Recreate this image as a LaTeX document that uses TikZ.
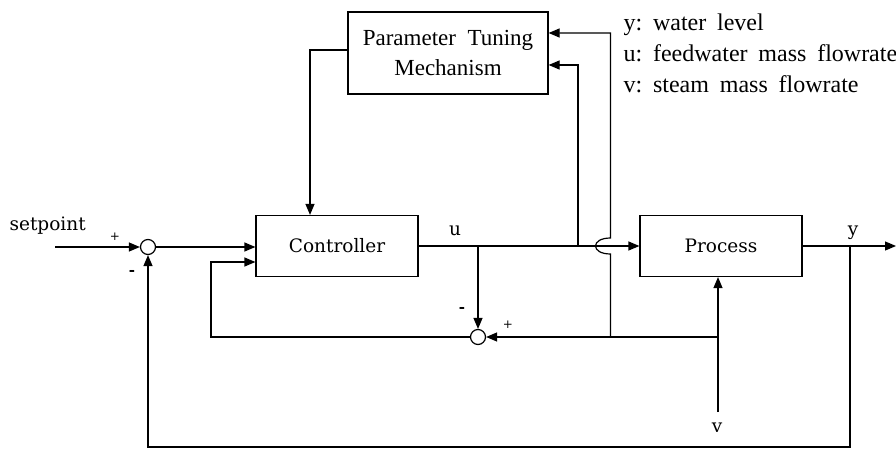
\documentclass[tikz,border=0pt]{standalone}
\usepackage{fontspec}
\setmainfont{Liberation Serif}
\newfontfamily\dvs{DejaVu Serif}
\usetikzlibrary{arrows.meta}
\newcommand\ptmfont{\fontsize{23}{30}\selectfont\spaceskip=0.5em\relax}
\newcommand\legfont{\fontsize{24}{26}\selectfont\spaceskip=0.45em\relax}
\begin{document}
\begin{tikzpicture}[x=1pt,y=-1pt,
  line width=1.2pt,
  box/.style={draw, rectangle, inner sep=0pt, line width=1.2pt},
  sumnode/.style={draw, circle, minimum size=15pt, inner sep=0pt, line width=1.2pt},
  arr/.style={-{Triangle[length=11pt,width=9pt]}},
  blocktext/.style={font=\dvs\fontsize{18.5}{22}\selectfont},
  lbl/.style={font=\dvs\fontsize{18.5}{22}\selectfont, inner sep=0pt},
  sign/.style={font=\dvs\fontsize{12}{12}\selectfont, inner sep=0pt},
  minus/.style={font=\dvs\bfseries\fontsize{15}{15}\selectfont, inner sep=0pt},
  legend/.style={font=\legfont, inner sep=0pt, anchor=base west}
]
\useasboundingbox (0,0) rectangle (896,449);

% blocks
\node[box, blocktext, minimum width=162pt, minimum height=61pt] (ctrl) at (337,246) {Controller};
\node[box, blocktext, minimum width=162pt, minimum height=61pt] (proc) at (721,246) {Process};
\node[box, minimum width=200pt, minimum height=82pt, align=center,
      font=\ptmfont] (ptm) at (448,53) {Parameter Tuning\\Mechanism};
\node[sumnode] (s1) at (148,247) {};
\node[sumnode] (s2) at (478,337) {};

% coordinates
\coordinate (in) at (55,247);
\coordinate (ju1) at (478,246);
\coordinate (ju2) at (578,246);
\coordinate (pt2) at (578,65);
\coordinate (ju3) at (850,246);
\coordinate (out) at (896,246);
\coordinate (fb) at (850,447);
\coordinate (fbl) at (148,447);
\coordinate (vin) at (718,412);
\coordinate (jv) at (718,337);
\coordinate (jh) at (610.5,337);
\coordinate (hopb) at (610.5,254);
\coordinate (hopt) at (610.5,238);
\coordinate (pt1) at (610.5,33);
\coordinate (lp) at (211,337);
\coordinate (lp2) at (211,262);
\coordinate (pl) at (310,50);

% connectors
\draw[arr] (in) -- (s1);
\draw[arr] (s1) -- (s1 -| ctrl.west);
\draw[arr] (ctrl.east) -- (proc.west);
\draw[arr] (ju1) -- (s2);
\draw[arr] (ju2) -- (pt2) -- (pt2 -| ptm.east);
\draw[arr] (proc.east) -- (out);
\draw[arr] (ju3) -- (fb) -- (fbl) -- (s1);
\draw[arr] (vin) -- (vin |- proc.south);
\draw[arr] (jv) -- (s2);
\draw[arr] (jh) -- (hopb) .. controls +(-20,0) and +(-20,0) .. (hopt) -- (pt1) -- (pt1 -| ptm.east);
\draw[arr] (s2) -- (lp) -- (lp2) -- (lp2 -| ctrl.west);
\draw[arr] (ptm.west |- pl) -- (pl) -- (pl |- ctrl.north);

% labels
\node[lbl, anchor=base west] (sp) at (9,230) {setpoint};
\node[lbl, anchor=base] (ul) at (455,235) {u};
\node[lbl, anchor=base] (yl) at (853,235) {y};
\node[lbl, anchor=base] (vl) at (717,432) {v};
\node[sign] (p1) at (115,237) {+};
\node[minus] (m1) at (132,273) {-};
\node[minus] (m2) at (462,310) {-};
\node[sign] (p2) at (508,325) {+};

% legend
\node[legend] (ly) at (623,31) {y:\ water level};
\node[legend] (lu) at (623,62) {u:\ feedwater mass flowrate};
\node[legend] (lv) at (623,93) {v:\ steam mass flowrate};
\end{tikzpicture}
\end{document}
